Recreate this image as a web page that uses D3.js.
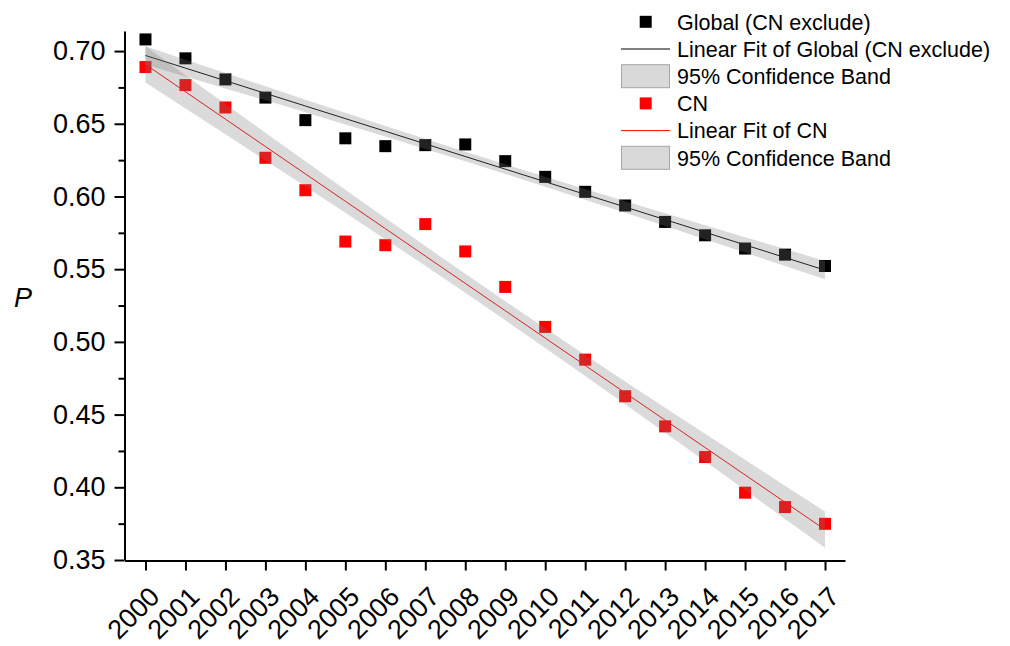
<!DOCTYPE html>
<html>
<head>
<meta charset="utf-8">
<script src="https://cdn.jsdelivr.net/npm/d3@7"></script>
<style>
  html, body { margin: 0; padding: 0; background: #fff; }
  svg { display: block; font-family: "Liberation Sans", Arial, sans-serif; }
</style>
</head>
<body>
<svg id="chart" width="1010" height="646"></svg>
<script>
// ---------- data ----------
const years = [2000, 2001, 2002, 2003, 2004, 2005, 2006, 2007, 2008,
               2009, 2010, 2011, 2012, 2013, 2014, 2015, 2016, 2017];
const globalVals = [0.708, 0.695, 0.6805, 0.668, 0.6525, 0.640, 0.6346, 0.6353, 0.6358,
                    0.6243, 0.6135, 0.6032, 0.5938, 0.5825, 0.5733, 0.5642, 0.560, 0.5522];
const cnVals = [0.689, 0.6766, 0.6612, 0.6266, 0.6043, 0.569, 0.5665, 0.581, 0.5622,
                0.5378, 0.5103, 0.4878, 0.4626, 0.4419, 0.4208, 0.3963, 0.3864, 0.3749];
const yTicks = [0.35, 0.40, 0.45, 0.50, 0.55, 0.60, 0.65, 0.70];
const yMinorTicks = [0.375, 0.425, 0.475, 0.525, 0.575, 0.625, 0.675];
const legendLabels = ["Global (CN exclude)", "Linear Fit of Global (CN exclude)", "95% Confidence Band",
                      "CN", "Linear Fit of CN", "95% Confidence Band"];
const tCrit = 2.1199; // t(0.975, df=16)

// ---------- linear fit + confidence band ----------
function fit(xs, ys) {
  const n = xs.length;
  const mx = d3.mean(xs), my = d3.mean(ys);
  let sxx = 0, sxy = 0;
  xs.forEach((x, i) => { sxx += (x - mx) ** 2; sxy += (x - mx) * (ys[i] - my); });
  const b = sxy / sxx, a = my - b * mx;
  let sse = 0;
  xs.forEach((x, i) => { sse += (ys[i] - (a + b * x)) ** 2; });
  const s = Math.sqrt(sse / (n - 2));
  return xs.map(x => {
    const yh = a + b * x;
    const h = tCrit * s * Math.sqrt(1 / n + (x - mx) ** 2 / sxx);
    return { x, y: yh, lo: yh - h, hi: yh + h };
  });
}
const globalFit = fit(years, globalVals);
const cnFit = fit(years, cnVals);

// ---------- scales ----------
const svg = d3.select("#chart");
const x = d3.scaleLinear().domain([1999.475, 2017.5]).range([124.5, 845]);
const y = d3.scaleLinear().domain([0.35, 0.7138]).range([560, 31]);

// ---------- marks ----------
const line = d3.line().x(d => x(d.x)).y(d => y(d.y));
const area = d3.area().x(d => x(d.x)).y0(d => y(d.lo)).y1(d => y(d.hi));
const ms = 12;

const plot = svg.append("g");
plot.append("path").datum(globalFit).attr("d", line)
  .attr("fill", "none").attr("stroke", "#000").attr("stroke-width", 1);
plot.append("path").datum(cnFit).attr("d", line)
  .attr("fill", "none").attr("stroke", "#ff0000").attr("stroke-width", 1);

plot.selectAll("rect.g").data(years).enter().append("rect")
  .attr("x", (d) => x(d) - ms / 2).attr("y", (d, i) => y(globalVals[i]) - ms / 2)
  .attr("width", ms).attr("height", ms).attr("fill", "#000");
plot.selectAll("rect.c").data(years).enter().append("rect")
  .attr("x", (d) => x(d) - ms / 2).attr("y", (d, i) => y(cnVals[i]) - ms / 2)
  .attr("width", ms).attr("height", ms).attr("fill", "#ff0000");

plot.append("path").datum(globalFit).attr("d", area)
  .attr("fill", "rgb(121,121,121)").attr("fill-opacity", 0.28);
plot.append("path").datum(cnFit).attr("d", area)
  .attr("fill", "rgb(121,121,121)").attr("fill-opacity", 0.28);

// ---------- axes ----------
const yAxis = svg.append("g").attr("transform", "translate(124.5,0)")
  .call(d3.axisLeft(y).tickValues(yTicks).tickFormat(d3.format(".2f"))
        .tickSize(10).tickSizeOuter(0).tickPadding(9));
const yMinor = svg.append("g").attr("transform", "translate(124.5,0)")
  .call(d3.axisLeft(y).tickValues(yMinorTicks).tickFormat("").tickSize(6).tickSizeOuter(0));
yMinor.select(".domain").remove();

const xAxis = svg.append("g").attr("transform", "translate(0,560.5)")
  .call(d3.axisBottom(x).tickValues(years).tickFormat(d3.format("d"))
        .tickSize(10).tickSizeOuter(0));

[yAxis, yMinor, xAxis].forEach(g => {
  g.selectAll(".domain").attr("stroke", "#000").attr("stroke-width", 2);
  g.selectAll(".tick line").attr("stroke", "#000").attr("stroke-width", 2);
});
yAxis.selectAll("text").attr("font-size", 27).attr("fill", "#000")
  .attr("font-family", "'Liberation Sans', Arial, sans-serif");
xAxis.selectAll("text")
  .attr("font-size", 27).attr("fill", "#000")
  .attr("font-family", "'Liberation Sans', Arial, sans-serif")
  .attr("text-anchor", "middle")
  .attr("dy", null)
  .attr("y", null)
  .attr("transform", "translate(-6,59) rotate(-45)");

svg.append("text").attr("x", 23).attr("y", 307).attr("text-anchor", "middle")
  .attr("font-size", 27).attr("font-style", "italic").text("P");

// ---------- legend ----------
const legend = svg.append("g").attr("font-size", 21.5);
const rowY = d3.range(legendLabels.length).map(i => 21.8 + i * 27.2);
const kinds = ["sq", "ln", "band", "sq", "ln", "band"];
const colors = ["#000", "#000", null, "#ff0000", "#ff0000", null];
legendLabels.forEach((lab, i) => {
  const cy = rowY[i];
  if (kinds[i] === "sq") {
    legend.append("rect").attr("x", 645.7 - ms / 2).attr("y", cy - ms / 2)
      .attr("width", ms).attr("height", ms).attr("fill", colors[i]);
  } else if (kinds[i] === "ln") {
    legend.append("line").attr("x1", 621).attr("x2", 670).attr("y1", cy).attr("y2", cy)
      .attr("stroke", colors[i]).attr("stroke-width", 1);
  } else {
    legend.append("rect").attr("x", 621.5).attr("y", cy - 11.5).attr("width", 48).attr("height", 23)
      .attr("fill", "#d9d9d9").attr("stroke", "#a6a6a6").attr("stroke-width", 1);
  }
  legend.append("text").attr("x", 677).attr("y", cy + 7.7).attr("fill", "#000").text(lab);
});
</script>
</body>
</html>
